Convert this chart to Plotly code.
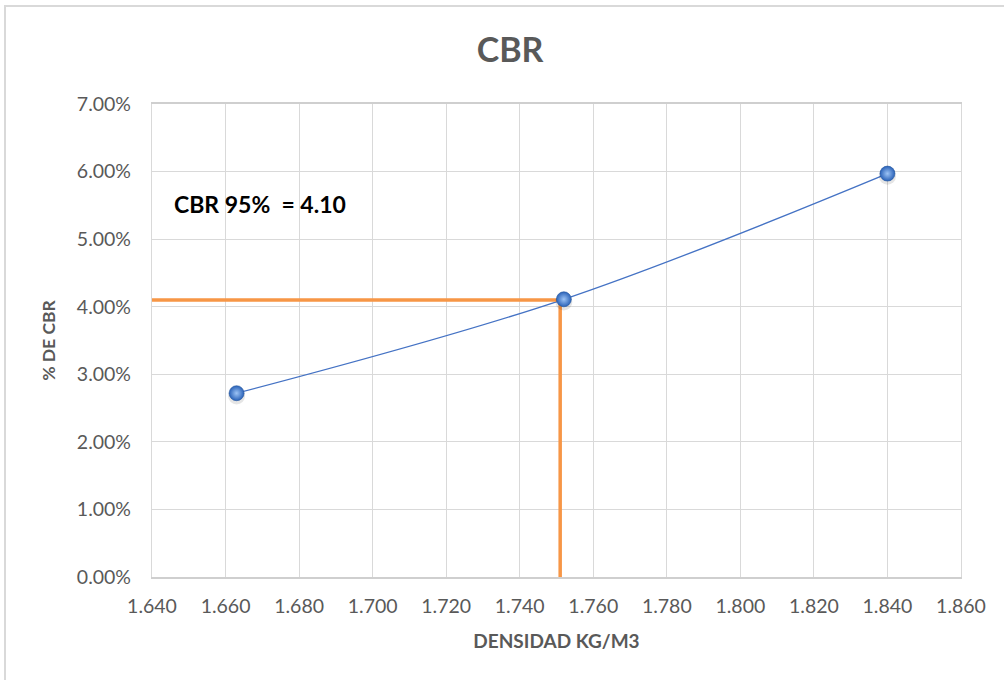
import plotly.graph_objects as go

# Ensayo CBR: densidad seca vs. % CBR
densidad = [1.663, 1.752, 1.840]
cbr = [0.0272, 0.0411, 0.0597]

# Lectura al 95% de la densidad máxima
densidad_95 = 1.751
cbr_95 = 0.0410

x_ticks = [1.64, 1.66, 1.68, 1.70, 1.72, 1.74, 1.76, 1.78, 1.80, 1.82, 1.84, 1.86]
y_ticks = [0.00, 0.01, 0.02, 0.03, 0.04, 0.05, 0.06, 0.07]

FONT = "Lato"
GRAY_TXT = "#595959"
GRID = "#D9D9D9"

fig = go.Figure()

# Curva de ajuste con puntos de ensayo
fig.add_trace(go.Scatter(
    x=densidad, y=cbr,
    mode="lines",
    line=dict(color="#4472C4", width=1.3, shape="spline", smoothing=1.0),
    hoverinfo="skip", showlegend=False,
))

# Líneas de lectura del CBR al 95%
fig.add_trace(go.Scatter(
    x=[x_ticks[0], densidad_95, densidad_95],
    y=[cbr_95, cbr_95, y_ticks[0]],
    mode="lines",
    line=dict(color="#F79646", width=3.5),
    hoverinfo="skip", showlegend=False, cliponaxis=False,
))

# Sombra de los marcadores
fig.add_trace(go.Scatter(
    x=densidad, y=[v - 0.0004 for v in cbr],
    mode="markers",
    marker=dict(size=17, color="rgba(0,0,0,0.10)", line=dict(width=0)),
    hoverinfo="skip", showlegend=False,
))

# Marcadores esféricos
fig.add_trace(go.Scatter(
    x=densidad, y=cbr,
    mode="markers",
    marker=dict(size=15, color="#2A62B8",
                gradient=dict(type="radial", color="#9CC3F5"),
                line=dict(width=0.6, color="#24559E")),
    hoverinfo="skip", showlegend=False,
))

fig.add_annotation(
    x=1.6455, y=0.0552, xref="x", yref="y",
    text="<b>CBR 95%  = 4.10</b>",
    showarrow=False, xanchor="left", yanchor="middle",
    font=dict(family=FONT, size=23, color="#000000"),
)

# Marco exterior del gráfico
L, R, T, B = 152, 43, 104, 103
W, H = 1004, 680
pw, ph = W - L - R, H - T - B
fig.add_shape(
    type="rect", xref="paper", yref="paper",
    x0=(5 - L) / pw, x1=(1012 - L) / pw,
    y0=(H - B - 690) / ph, y1=(H - B - 6) / ph,
    line=dict(color="#D9D9D9", width=2), fillcolor="rgba(0,0,0,0)",
    layer="below",
)

fig.update_layout(
    width=W, height=H,
    margin=dict(l=L, r=R, t=T, b=B),
    paper_bgcolor="white", plot_bgcolor="white",
    title=dict(text="<b>CBR</b>", x=0.508, xanchor="center",
               y=1 - 50 / H, yanchor="middle",
               font=dict(family=FONT, size=34, color=GRAY_TXT)),
    font=dict(family=FONT, color=GRAY_TXT),
    hovermode=False,
)

fig.update_xaxes(
    range=[x_ticks[0], x_ticks[-1]],
    tickvals=x_ticks, tickformat=".3f",
    tickfont=dict(family=FONT, size=19.5, color=GRAY_TXT),
    ticklabelstandoff=11,
    showgrid=True, gridcolor=GRID, gridwidth=1.2,
    showline=True, linecolor="#CFCFCF", linewidth=1.5, mirror=True,
    zeroline=False, ticks="",
    title=dict(text="<b>DENSIDAD KG/M3</b>", standoff=19,
               font=dict(family=FONT, size=19, color=GRAY_TXT)),
)

fig.update_yaxes(
    range=[y_ticks[0], y_ticks[-1]],
    tickvals=y_ticks, tickformat=".2%",
    tickfont=dict(family=FONT, size=19.5, color=GRAY_TXT),
    ticklabelstandoff=16,
    showgrid=True, gridcolor=GRID, gridwidth=1.2,
    showline=True, linecolor=GRID, linewidth=1.2, mirror=True,
    zeroline=False, ticks="",
    title=dict(text="<b>% DE CBR</b>", standoff=16,
               font=dict(family=FONT, size=17.5, color=GRAY_TXT)),
)

fig.write_html("out.html")
